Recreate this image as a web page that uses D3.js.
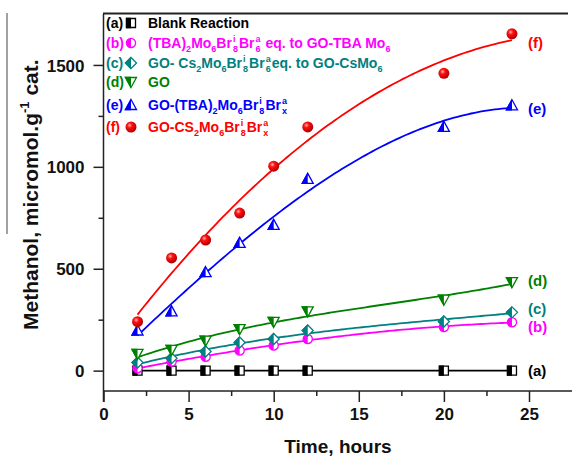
<!DOCTYPE html>
<html><head><meta charset="utf-8">
<script src="https://cdn.jsdelivr.net/npm/d3@7"></script>
<style>
html,body{margin:0;padding:0;background:#fff;}
svg{display:block;font-family:"Liberation Sans",Arial,sans-serif;font-weight:bold;}
</style></head>
<body><svg id="c" width="572" height="457"></svg>
<script>
const times = [2, 4, 6, 8, 10, 12, 20, 24];
const seriesA = [0, 0, 0, 0, 0, 0, 0, 0];
const seriesB = [12, 44, 68, 99, 123, 155, 214, 237];
const seriesC = [40, 61, 94, 138, 155, 197, 241, 286];
const seriesD = [82, 102, 147, 204, 239, 291, 348, 434];
const seriesE = [197, 291, 483, 627, 715, 941, 1196, 1302];
const seriesF = [240, 553, 641, 773, 1003, 1196, 1459, 1653];
const seriesKeys = ["a", "b", "c", "d", "e", "f"];
const seriesColors = ["#000000", "#ff00ff", "#008080", "#008000", "#0000ff", "#ff0000"];
const seriesMarkers = ["square", "circle", "diamond", "triDown", "triUp", "ball"];
const fitDegree = [1, 3, 3, 3, 3, 2];
const xTicks = [0, 5, 10, 15, 20, 25];
const xMinorTicks = [2.5, 7.5, 12.5, 17.5, 22.5];
const yTicks = [0, 500, 1000, 1500];
const yMinorTicks = [250, 750, 1250];
const xTitle = "Time, hours";
const legendLabels = [
  [["t", "Blank Reaction"]],
  [["t", "(TBA)"], ["sub", "2"], ["t", "Mo"], ["sub", "6"], ["t", "Br"], ["ss", "i", "8"], ["t", "Br"], ["ss", "a", "6"], ["t", " eq. to GO-TBA Mo"], ["sub", "6"]],
  [["t", "GO- Cs"], ["sub", "2"], ["t", "Mo"], ["sub", "6"], ["t", "Br"], ["ss", "i", "8"], ["t", "Br"], ["ss", "a", "6"], ["t", "eq. to GO-CsMo"], ["sub", "6"]],
  [["t", "GO"]],
  [["t", "GO-(TBA)"], ["sub", "2"], ["t", "Mo"], ["sub", "6"], ["t", "Br"], ["ss", "i", "8"], ["t", "Br"], ["ss", "a", "x"]],
  [["t", "GO-CS"], ["sub", "2"], ["t", "Mo"], ["sub", "6"], ["t", "Br"], ["ss", "i", "8"], ["t", "Br"], ["ss", "a", "x"]]
];
const yTitle = [["t", "Methanol, micromol.g"], ["sup", "-1"], ["t", " cat."]];

const allSeries = [seriesA, seriesB, seriesC, seriesD, seriesE, seriesF];

const svg = d3.select("#c");
const x = d3.scaleLinear().domain([0, 25]).range([103.5, 529]);
const y = d3.scaleLinear().domain([-100, 1750]).range([391, 14]);

// defs
const defs = svg.append("defs");
defs.append("clipPath").attr("id", "lefthalf").append("rect")
  .attr("x", -20).attr("y", -20).attr("width", 20).attr("height", 40);
const rg = defs.append("radialGradient").attr("id", "ballGrad")
  .attr("cx", "0.38").attr("cy", "0.35").attr("r", "0.65");
rg.append("stop").attr("offset", "0").attr("stop-color", "#ffb0b0");
rg.append("stop").attr("offset", "0.35").attr("stop-color", "#ff1010");
rg.append("stop").attr("offset", "1").attr("stop-color", "#b00000");

// axes
const axisColor = "#222";
const gx = svg.append("g").attr("transform", `translate(0,391)`);
gx.call(d3.axisBottom(x).tickValues(xTicks).tickSize(11).tickSizeOuter(0).tickFormat(d3.format("d")));
gx.select(".domain").remove();
gx.append("line").attr("x1", 103.5).attr("x2", 572).attr("stroke", axisColor).attr("stroke-width", 1.5);
gx.selectAll(".tick line").attr("stroke", axisColor).attr("stroke-width", 1.5);
gx.selectAll(".tick text").attr("font-size", 17).attr("font-family", "Liberation Sans, Arial, sans-serif")
  .attr("font-weight", "bold").attr("fill", "#111").attr("dy", "1.05em").attr("y", 11);
const gxm = svg.append("g").attr("transform", `translate(0,391)`);
gxm.call(d3.axisBottom(x).tickValues(xMinorTicks).tickSize(5).tickFormat(""));
gxm.select(".domain").remove();
gxm.selectAll(".tick line").attr("stroke", axisColor).attr("stroke-width", 1.5);

const gy = svg.append("g").attr("transform", `translate(103.5,0)`);
gy.call(d3.axisLeft(y).tickValues(yTicks).tickSize(10).tickSizeOuter(0).tickFormat(d3.format("d")));
gy.select(".domain").remove();
gy.append("line").attr("y1", 14).attr("y2", 402).attr("stroke", axisColor).attr("stroke-width", 1.5);
gy.selectAll(".tick line").attr("stroke", axisColor).attr("stroke-width", 1.5);
gy.selectAll(".tick text").attr("font-size", 17).attr("font-family", "Liberation Sans, Arial, sans-serif")
  .attr("font-weight", "bold").attr("fill", "#111").attr("x", -19).attr("dy", "0.36em");
const gym = svg.append("g").attr("transform", `translate(103.5,0)`);
gym.call(d3.axisLeft(y).tickValues(yMinorTicks).tickSize(5).tickFormat(""));
gym.select(".domain").remove();
gym.selectAll(".tick line").attr("stroke", axisColor).attr("stroke-width", 1.5);

// top frame line
svg.append("line").attr("x1", 103).attr("x2", 568).attr("y1", 13.5).attr("y2", 13.5)
  .attr("stroke", "#222").attr("stroke-width", 2);

// rich text helper
function rich(parent, x0, y0, parts, color, size) {
  const g = parent.append("g");
  let cx = x0;
  const small = Math.round(size * 0.62);
  parts.forEach(p => {
    if (p[0] === "t") {
      const t = g.append("text").attr("x", cx).attr("y", y0).attr("font-size", size).attr("fill", color)
        .attr("xml:space", "preserve").style("white-space", "pre").text(p[1]);
      cx += t.node().getComputedTextLength();
    } else if (p[0] === "sub") {
      const t = g.append("text").attr("x", cx).attr("y", y0 + size * 0.3).attr("font-size", small).attr("fill", color).text(p[1]);
      cx += t.node().getComputedTextLength();
    } else if (p[0] === "sup") {
      const t = g.append("text").attr("x", cx).attr("y", y0 - size * 0.42).attr("font-size", small).attr("fill", color).text(p[1]);
      cx += t.node().getComputedTextLength();
    } else if (p[0] === "ss") {
      const t1 = g.append("text").attr("x", cx + 1).attr("y", y0 - size * 0.45).attr("font-size", small).attr("fill", color).text(p[1]);
      const t2 = g.append("text").attr("x", cx + 1).attr("y", y0 + size * 0.32).attr("font-size", small).attr("fill", color).text(p[2]);
      cx += Math.max(t1.node().getComputedTextLength(), t2.node().getComputedTextLength()) + 2;
    }
  });
  return g;
}

// marker helper
function shapePath(type) {
  switch (type) {
    case "square": return "M-4.5,-4.5H4.5V4.5H-4.5Z";
    case "diamond": return "M0,-5.5L5.5,0L0,5.5L-5.5,0Z";
    case "triUp": return "M0,-5.5L5.5,4.5L-5.5,4.5Z";
    case "triDown": return "M-5.5,-4.5L5.5,-4.5L0,5.5Z";
    default: return null;
  }
}
function marker(parent, type, cx, cy, color) {
  const g = parent.append("g").attr("transform", `translate(${cx},${cy})`);
  if (type === "ball") {
    g.append("circle").attr("r", 5.5).attr("fill", "url(#ballGrad)");
    return;
  }
  if (type === "circle") {
    g.append("circle").attr("r", 4.6).attr("fill", "#fff").attr("stroke", color).attr("stroke-width", 1.3);
    g.append("circle").attr("r", 4.6).attr("fill", color).attr("clip-path", "url(#lefthalf)");
    return;
  }
  const d = shapePath(type);
  g.append("path").attr("d", d).attr("fill", "#fff").attr("stroke", color).attr("stroke-width", 1.3);
  g.append("path").attr("d", d).attr("fill", color).attr("stroke", color).attr("stroke-width", 1.3).attr("clip-path", "url(#lefthalf)");
}

// least-squares polynomial fit
function polyFit(xs, ys, deg) {
  const xm = d3.mean(xs);
  const n = deg + 1;
  const A = Array.from({length: n}, () => new Array(n + 1).fill(0));
  xs.forEach((xv, k) => {
    const u = xv - xm;
    for (let i = 0; i < n; i++) {
      for (let j = 0; j < n; j++) A[i][j] += Math.pow(u, i + j);
      A[i][n] += ys[k] * Math.pow(u, i);
    }
  });
  for (let i = 0; i < n; i++) {
    let p = i;
    for (let r = i + 1; r < n; r++) if (Math.abs(A[r][i]) > Math.abs(A[p][i])) p = r;
    [A[i], A[p]] = [A[p], A[i]];
    for (let r = 0; r < n; r++) {
      if (r === i) continue;
      const f = A[r][i] / A[i][i];
      for (let c = i; c <= n; c++) A[r][c] -= f * A[i][c];
    }
  }
  const coef = A.map((row, i) => row[n] / row[i]);
  return t => coef.reduce((s, c, i) => s + c * Math.pow(t - xm, i), 0);
}

// curves
const curveG = svg.append("g");
const line = d3.line().x(d => x(d[0])).y(d => y(d[1]));
const tSamples = d3.range(2, 24.001, 0.2);
allSeries.forEach((vals, i) => {
  const f = polyFit(times, vals, fitDegree[i]);
  curveG.append("path").datum(tSamples.map(t => [t, f(t)]))
    .attr("d", line).attr("fill", "none").attr("stroke", seriesColors[i]).attr("stroke-width", 1.8);
});

// markers
const markG = svg.append("g");
allSeries.forEach((vals, i) => {
  vals.forEach((v, k) => marker(markG, seriesMarkers[i], x(times[k]), y(v), seriesColors[i]));
});

// end labels
const endLabelY = [371, 327, 309, 281, 109, 43];
const lab = svg.append("g").attr("font-size", 15);
seriesKeys.forEach((k, i) => {
  lab.append("text").attr("x", 528).attr("y", endLabelY[i]).attr("dy", "0.36em")
    .attr("fill", seriesColors[i]).text(`(${k})`);
});

// legend
const legRows = [23, 43, 63, 82, 105, 127];
const leg = svg.append("g");
seriesKeys.forEach((k, i) => {
  const cy = legRows[i];
  leg.append("text").attr("x", 106).attr("y", cy + 5).attr("font-size", 14).attr("fill", seriesColors[i]).text(`(${k})`);
  marker(leg, seriesMarkers[i], 131, cy, seriesColors[i]);
  rich(leg, 148, cy + 5, legendLabels[i], seriesColors[i], 14);
});

// axis titles
svg.append("text").attr("x", 338).attr("y", 453).attr("text-anchor", "middle")
  .attr("font-size", 19).attr("fill", "#111").text(xTitle);
const yt = svg.append("g").attr("transform", "translate(38,330) rotate(-90)");
rich(yt, 0, 0, yTitle, "#111", 21);
svg.append("line").attr("x1", 7).attr("x2", 7).attr("y1", 13).attr("y2", 234)
  .attr("stroke", "#444").attr("stroke-width", 1);
</script></body></html>
